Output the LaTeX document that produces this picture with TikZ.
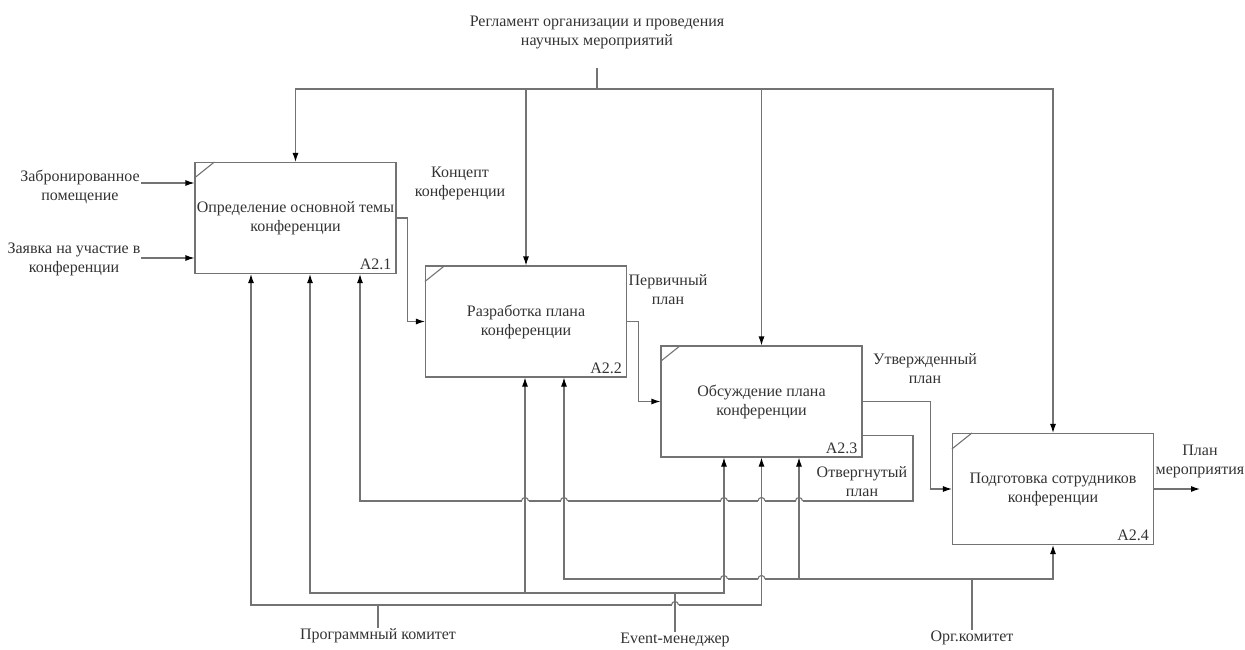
\documentclass[tikz,border=0pt]{standalone}
\usepackage{fontspec}
\setmainfont{Liberation Serif}
\usetikzlibrary{arrows.meta,calc}

\begin{document}
\begin{tikzpicture}[x=1pt,y=-1pt,
  func/.style={draw=black!55, line width=1.1pt, minimum width=201pt, minimum height=111pt,
    inner sep=0pt, font=\fontsize{16}{19}\selectfont, text=black!80, align=center},
  lbl/.style={font=\fontsize{16}{19}\selectfont, text=black!80, align=center, inner sep=1pt},
  link/.style={draw=black!55, line width=1.1pt},
  flow/.style={link, -{Latex[length=9pt,width=6pt,color=black]}}]
  \useasboundingbox (0,0) rectangle (1245,650);
  % function boxes
  \node[func] (a1) at (295.5,218) {Определение основной темы\\конференции};
  \node[func] (a2) at (526,321.5) {Разработка плана\\конференции};
  \node[func] (a3) at (761.5,401.5) {Обсуждение плана\\конференции};
  \node[func] (a4) at (1053,489) {Подготовка сотрудников\\конференции};
  \draw[link] ($(a1.north west)+(0,16)$) -- ($(a1.north west)+(20,0)$);
  \draw[link] ($(a2.north west)+(0,16)$) -- ($(a2.north west)+(20,0)$);
  \draw[link] ($(a3.north west)+(0,16)$) -- ($(a3.north west)+(20,0)$);
  \draw[link] ($(a4.north west)+(0,16)$) -- ($(a4.north west)+(20,0)$);
  \node[lbl, anchor=south east] (a1id) at ($(a1.south east)+(-4,-3)$) {A2.1};
  \node[lbl, anchor=south east] (a2id) at ($(a2.south east)+(-4,-3)$) {A2.2};
  \node[lbl, anchor=south east] (a3id) at ($(a3.south east)+(-4,-3)$) {A2.3};
  \node[lbl, anchor=south east] (a4id) at ($(a4.south east)+(-4,-3)$) {A2.4};
  % labels
  \node[lbl] (reg) at (597,32) {Регламент организации и проведения\\научных мероприятий};
  \node[lbl] (room) at (80,187) {Забронированное\\помещение};
  \node[lbl] (req) at (74,259) {Заявка на участие в\\конференции};
  \node[lbl] (concept) at (460,183) {Концепт\\конференции};
  \node[lbl] (draft) at (668,290) {Первичный\\план};
  \node[lbl] (approved) at (925,369) {Утвержденный\\план};
  \node[lbl] (rejected) at (862,482) {Отвергнутый\\план};
  \node[lbl] (result) at (1200,461) {План\\мероприятия};
  \node[lbl] (prog) at (378,636) {Программный комитет};
  \node[lbl] (event) at (675,640) {Event-менеджер};
  \node[lbl] (orgc) at (972,638) {Орг.комитет};
  \coordinate (regtop) at (597,68);
  \coordinate (ctrl) at (597,89);
  \coordinate (in1) at (141,183);
  \coordinate (in2) at (141,258);
  \coordinate (outend) at (1200,489);
  % controls
  \draw[link] (regtop) -- (ctrl);
  \draw[flow] (ctrl) -| (a1.north);
  \draw[flow] (ctrl) -| (a2.north);
  \draw[flow] (ctrl) -| (a3.north);
  \draw[flow] (ctrl) -| (a4.north);
  % inputs and outputs
  \draw[flow] (in1) -- (in1 -| a1.west);
  \draw[flow] (in2) -- (in2 -| a1.west);
  \draw[flow] (a1.east) -- ++(11,0) |- (a2.west);
  \draw[flow] (a2.east) -- ++(11,0) |- (a3.west);
  \draw[flow] (a3.east) -- ++(68,0) |- (a4.west);
  \draw[flow] (a4.east) -- (outend);
  \draw[flow] ($(a3.south east)+(0,-22)$) -| (913,501) -| (360,0 |- a1.south);
  % mechanisms
  \coordinate (progbus) at (prog.north |- 0,605);
  \draw[link] (prog.north) -- (progbus);
  \draw[flow] (progbus) -| (251,0 |- a1.south);
  \draw[flow] (progbus) -| (a3.south);
  \coordinate (evbus) at (event.north |- 0,593);
  \draw[link] (event.north) -- (evbus);
  \draw[flow] (evbus) -| (310,0 |- a1.south);
  \draw[flow] (evbus) -| (724,0 |- a3.south);
  \draw[flow] (525,593) -- (525,0 |- a2.south);
  \coordinate (orgbus) at (orgc.north |- 0,579);
  \draw[link] (orgc.north) -- (orgbus);
  \draw[flow] (orgbus) -| (564,0 |- a2.south);
  \draw[flow] (orgbus) -| (a4.south);
  \draw[flow] (799,579) -- (799,0 |- a3.south);
  % line jumps
  \foreach \bx/\by in {525/501, 564/501, 724/501, 761.5/501, 799/501, 724/579, 761.5/579, 675/605} {
    \fill[white] (\bx-3.5,\by-1.2) rectangle (\bx+3.5,\by+1.2);
    \draw[link] (\bx,\by-5) -- (\bx,\by+5);
    \draw[link] (\bx-3.5,\by) arc (180:360:3.5);
  }
\end{tikzpicture}
\end{document}
